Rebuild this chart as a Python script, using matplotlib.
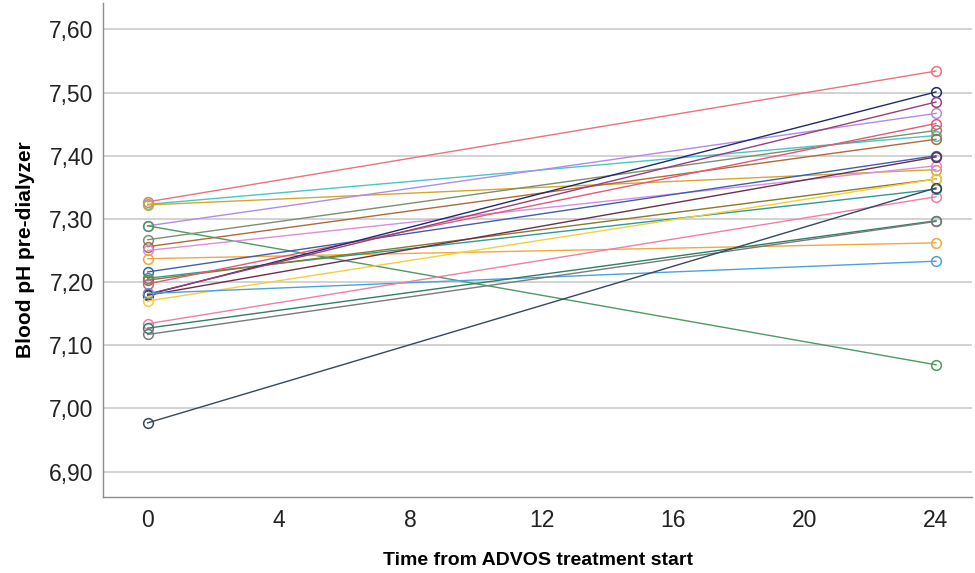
import matplotlib
matplotlib.use("Agg")
import matplotlib.pyplot as plt
from matplotlib.ticker import FuncFormatter

plt.rcParams['font.family'] = ['Liberation Sans', 'DejaVu Sans']

# time points (hours)
times = [0, 24]

# blood pH per patient: value at 0 h and at 24 h
ph_start = [7.327, 7.323, 7.322, 7.289, 7.289, 7.267, 7.256, 7.250, 7.237, 7.216, 7.206,
            7.203, 7.197, 7.180, 7.181, 7.179, 7.170, 7.182, 7.134, 7.127, 7.117, 6.977]
ph_end = [7.534, 7.432, 7.378, 7.467, 7.069, 7.440, 7.426, 7.384, 7.262, 7.400, 7.347,
          7.363, 7.451, 7.501, 7.485, 7.398, 7.363, 7.233, 7.335, 7.297, 7.296, 7.349]
line_colors = ['#e8747c', '#49c6c6', '#d4a82b', '#b38be6', '#4d9a63', '#7d8f72', '#b06a3b',
               '#d98ee0', '#f2a93b', '#3f5fae', '#2e9b96', '#8a7a2a', '#e05a7a', '#1f2a6e',
               '#9a3f7d', '#6b2f4f', '#f5cf3a', '#4aa3df', '#f07fa8', '#2f7f6a', '#7a7a7a',
               '#34495e']

x_ticks = [0, 4, 8, 12, 16, 20, 24]
y_ticks = [6.90, 7.00, 7.10, 7.20, 7.30, 7.40, 7.50, 7.60]

fig = plt.figure(figsize=(9.75, 5.73), dpi=100)
ax = fig.add_axes([0.106, 0.133, 0.891, 0.862])

for y0, y1, c in zip(ph_start, ph_end, line_colors):
    ax.plot(times, [y0, y1], color=c, lw=1.0, marker='o', markersize=7,
            markerfacecolor='none', markeredgecolor=c, markeredgewidth=1.1, zorder=3)

ax.set_xlim(-1.35, 25.1)
ax.set_ylim(6.86, 7.642)
ax.set_xticks(x_ticks)
ax.set_yticks(y_ticks)
ax.yaxis.set_major_formatter(FuncFormatter(lambda v, p: f"{v:.2f}".replace('.', ',')))
ax.grid(axis='y', color='#cfcfcf', lw=1.3, zorder=0)
ax.set_axisbelow(True)

for s in ['top', 'right']:
    ax.spines[s].set_visible(False)
for s in ['left', 'bottom']:
    ax.spines[s].set_color('#8c8c8c')
    ax.spines[s].set_linewidth(1.0)

ax.tick_params(axis='both', length=0, labelsize=16.5, colors='#222222')
ax.tick_params(axis='y', pad=7)
ax.tick_params(axis='x', pad=9)

ax.set_ylabel("Blood pH pre-dialyzer", fontsize=15, fontweight='bold', labelpad=10)
ax.set_xlabel("Time from ADVOS treatment start", fontsize=14, fontweight='bold', labelpad=14)

fig.savefig("out.png", dpi=100)
